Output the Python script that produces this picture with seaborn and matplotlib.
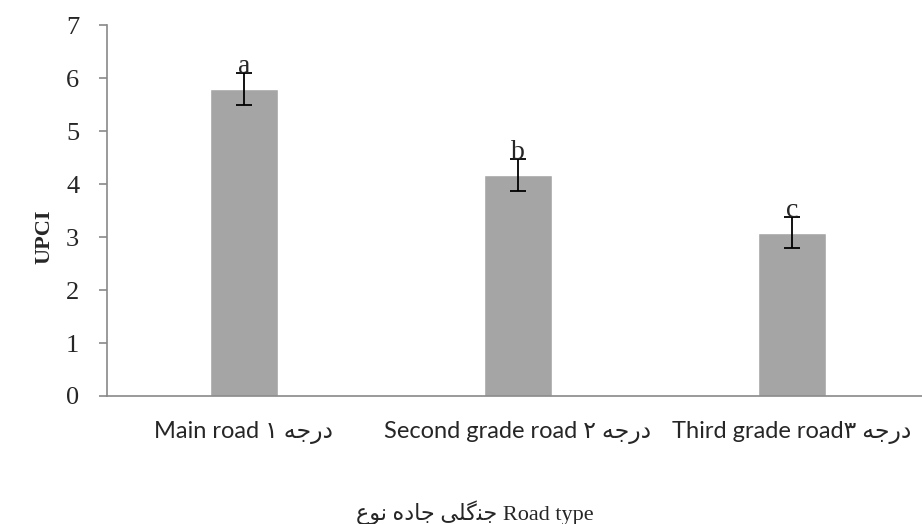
import pandas as pd
import matplotlib
matplotlib.use('Agg')
import matplotlib.pyplot as plt
import seaborn as sns

# Persian words written in presentation forms, visual order (matplotlib does no shaping)
daraje = '\uFEEA\uFE9F\uFEAD\uFEA9'          # درجه
noe = '\uFEC9\uFEEE\uFEE7'                   # نوع
jade = '\uFEE9\uFEA9\uFE8E\uFE9F'            # جاده
jangali = '\uFBFD\uFEE0\uFB94\uFEE8\uFE9F'   # جنگلی

categories = ['Main road \u06F1 ' + daraje,
              'Second grade road \u06F2 ' + daraje,
              'Third grade road\u06F3 ' + daraje]
upci = [5.8, 4.17, 3.08]
upci_err = [0.3, 0.3, 0.29]
letters = ['a', 'b', 'c']
x_title = noe + ' ' + jade + ' ' + jangali + ' Road type'

df = pd.DataFrame({'road': categories, 'upci': upci})

sns.set_style('white')
serif = ['Liberation Serif', 'DejaVu Sans']
sans = ['Lato', 'DejaVu Sans']

fig = plt.figure(figsize=(9.22, 5.24), dpi=100)
ax = fig.add_axes([0.116, 0.2443, 0.884, 0.7077])

sns.barplot(data=df, x='road', y='upci', color='#A5A5A5', saturation=1,
            width=0.25, errorbar=None, ax=ax)
ax.errorbar(range(len(upci)), upci, yerr=upci_err, fmt='none',
            ecolor='black', elinewidth=1.3, capsize=6, capthick=1.3)

for i, (v, e, t) in enumerate(zip(upci, upci_err, letters)):
    ax.text(i, v + e, t, ha='center', va='baseline', fontsize=20, family=serif)

ax.set_xlim(-0.5, 2.474)
ax.set_ylim(0, 7)
ax.set_yticks(range(8))

for s in ['top', 'right']:
    ax.spines[s].set_visible(False)
for s in ['left', 'bottom']:
    ax.spines[s].set_color('#898989')
    ax.spines[s].set_linewidth(1.2)

ax.tick_params(axis='y', which='major', length=6, width=1.2, color='#898989',
               left=True, pad=14)
ax.tick_params(axis='x', length=0, pad=18)
for lab in ax.get_yticklabels():
    lab.set_fontfamily(serif)
    lab.set_fontsize(19)
for lab in ax.get_xticklabels():
    lab.set_fontfamily(sans)
    lab.set_fontsize(17)

ax.set_ylabel('UPCI', fontsize=16, fontweight='bold', family=serif)
ax.yaxis.set_label_coords(-0.065, 0.4286)
ax.set_xlabel(x_title, fontsize=16, family=serif)
ax.xaxis.set_label_coords(0.4515, -0.315)
ax.xaxis.label.set_va('center')

fig.savefig('out.png', dpi=100)
